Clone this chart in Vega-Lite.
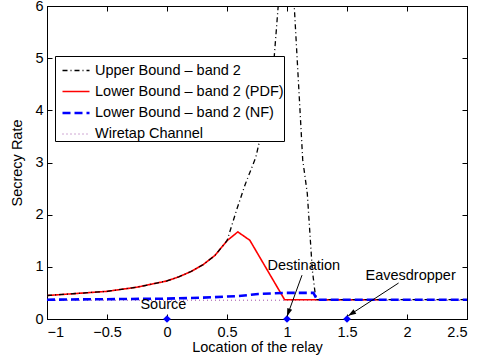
{
  "$schema": "https://vega.github.io/schema/vega-lite/v6.json",
  "width": 420,
  "height": 313,
  "autosize": {"type": "none"},
  "padding": {"left": 47, "top": 6, "right": 17, "bottom": 39},
  "config": {
    "font": "Liberation Sans",
    "view": {"stroke": "black", "strokeWidth": 1},
    "axis": {"domainColor": "black", "tickColor": "black", "labelColor": "black", "titleColor": "black", "labelFontSize": 14.5, "titleFontSize": 14.5, "titleFontWeight": "normal", "grid": false, "tickSize": -5, "format": "~g"},
    "axisX": {"labelPadding": 11, "titlePadding": 2},
    "axisY": {"labelPadding": 9, "titlePadding": 10}
  },
  "datasets": {
    "curves": [
      {"series": "Wiretap Channel", "x": -1, "y": 0.36},
      {"series": "Wiretap Channel", "x": 2.5, "y": 0.36},
      {"series": "Lower Bound – band 2 (PDF)", "x": -1, "y": 0.45},
      {"series": "Lower Bound – band 2 (PDF)", "x": -0.75, "y": 0.49},
      {"series": "Lower Bound – band 2 (PDF)", "x": -0.5, "y": 0.53},
      {"series": "Lower Bound – band 2 (PDF)", "x": -0.25, "y": 0.61},
      {"series": "Lower Bound – band 2 (PDF)", "x": 0, "y": 0.73},
      {"series": "Lower Bound – band 2 (PDF)", "x": 0.1, "y": 0.81},
      {"series": "Lower Bound – band 2 (PDF)", "x": 0.2, "y": 0.91},
      {"series": "Lower Bound – band 2 (PDF)", "x": 0.3, "y": 1.04},
      {"series": "Lower Bound – band 2 (PDF)", "x": 0.4, "y": 1.22},
      {"series": "Lower Bound – band 2 (PDF)", "x": 0.5, "y": 1.5},
      {"series": "Lower Bound – band 2 (PDF)", "x": 0.59, "y": 1.67},
      {"series": "Lower Bound – band 2 (PDF)", "x": 0.69, "y": 1.51},
      {"series": "Lower Bound – band 2 (PDF)", "x": 0.98, "y": 0.37},
      {"series": "Lower Bound – band 2 (PDF)", "x": 1.8, "y": 0.37},
      {"series": "Upper Bound – band 2", "x": -1, "y": 0.45},
      {"series": "Upper Bound – band 2", "x": -0.75, "y": 0.49},
      {"series": "Upper Bound – band 2", "x": -0.5, "y": 0.53},
      {"series": "Upper Bound – band 2", "x": -0.25, "y": 0.61},
      {"series": "Upper Bound – band 2", "x": 0, "y": 0.73},
      {"series": "Upper Bound – band 2", "x": 0.1, "y": 0.81},
      {"series": "Upper Bound – band 2", "x": 0.2, "y": 0.91},
      {"series": "Upper Bound – band 2", "x": 0.3, "y": 1.04},
      {"series": "Upper Bound – band 2", "x": 0.4, "y": 1.22},
      {"series": "Upper Bound – band 2", "x": 0.5, "y": 1.5},
      {"series": "Upper Bound – band 2", "x": 0.58, "y": 2.09},
      {"series": "Upper Bound – band 2", "x": 0.65, "y": 2.57},
      {"series": "Upper Bound – band 2", "x": 0.74, "y": 3.1},
      {"series": "Upper Bound – band 2", "x": 0.78, "y": 3.5},
      {"series": "Upper Bound – band 2", "x": 0.84, "y": 4.3},
      {"series": "Upper Bound – band 2", "x": 0.894, "y": 5.04},
      {"series": "Upper Bound – band 2", "x": 0.93, "y": 6.1},
      {"series": "Upper Bound – band 2", "x": 0.96, "y": 7.5},
      {"series": "Upper Bound – band 2", "x": 1.0, "y": 9},
      {"series": "Upper Bound – band 2", "x": 1.04, "y": 7.0},
      {"series": "Upper Bound – band 2", "x": 1.058, "y": 6.1},
      {"series": "Upper Bound – band 2", "x": 1.094, "y": 4.6},
      {"series": "Upper Bound – band 2", "x": 1.131, "y": 3.05},
      {"series": "Upper Bound – band 2", "x": 1.169, "y": 2.41},
      {"series": "Upper Bound – band 2", "x": 1.211, "y": 0.94},
      {"series": "Upper Bound – band 2", "x": 1.233, "y": 0.52},
      {"series": "Upper Bound – band 2", "x": 1.25, "y": 0.37},
      {"series": "Upper Bound – band 2", "x": 2.5, "y": 0.37},
      {"series": "Lower Bound – band 2 (NF)", "x": -1, "y": 0.37},
      {"series": "Lower Bound – band 2 (NF)", "x": -0.5, "y": 0.38},
      {"series": "Lower Bound – band 2 (NF)", "x": 0, "y": 0.39},
      {"series": "Lower Bound – band 2 (NF)", "x": 0.3, "y": 0.41},
      {"series": "Lower Bound – band 2 (NF)", "x": 0.6, "y": 0.44},
      {"series": "Lower Bound – band 2 (NF)", "x": 0.76, "y": 0.48},
      {"series": "Lower Bound – band 2 (NF)", "x": 0.98, "y": 0.5},
      {"series": "Lower Bound – band 2 (NF)", "x": 1.22, "y": 0.5},
      {"series": "Lower Bound – band 2 (NF)", "x": 1.25, "y": 0.37},
      {"series": "Lower Bound – band 2 (NF)", "x": 2.5, "y": 0.37}
    ],
    "sites": [
      {"name": "Source", "x": 0, "y": 0},
      {"name": "Destination", "x": 1, "y": 0},
      {"name": "Eavesdropper", "x": 1.5, "y": 0}
    ],
    "notes": [
      {"label": "Source", "x": -0.03, "y": 0.27},
      {"label": "Destination", "x": 1.14, "y": 1.015},
      {"label": "Eavesdropper", "x": 2.03, "y": 0.82}
    ],
    "arrows": [
      {"name": "Destination", "x": 1.125, "y": 0.84, "x2": 1.0, "y2": 0.05},
      {"name": "Eavesdropper", "x": 1.93, "y": 0.69, "x2": 1.51, "y2": 0.06}
    ]
  },
  "layer": [
    {
      "layer": [
        {
          "data": {"name": "curves"},
          "mark": {"type": "line", "clip": true},
          "encoding": {
            "x": {"field": "x", "type": "quantitative", "title": "Location of the relay",
                  "scale": {"domain": [-1, 2.5], "nice": false, "zero": false},
                  "axis": {"values": [-1, -0.5, 0, 0.5, 1, 1.5, 2, 2.5]}},
            "y": {"field": "y", "type": "quantitative", "title": "Secrecy Rate",
                  "scale": {"domain": [0, 6], "nice": false},
                  "axis": {"values": [0, 1, 2, 3, 4, 5, 6]}},
            "color": {"field": "series", "type": "nominal",
                      "scale": {"domain": ["Upper Bound – band 2", "Lower Bound – band 2 (PDF)", "Lower Bound – band 2 (NF)", "Wiretap Channel"],
                                "range": ["#000000", "#ff0000", "#0000ff", "#a050a8"]},
                      "legend": {"title": null, "orient": "none", "legendX": 8, "legendY": 50,
                                 "symbolType": "stroke", "symbolSize": 729, "labelFontSize": 14.5, "labelColor": "black",
                                 "labelLimit": 400, "strokeColor": "black", "fillColor": "white", "padding": 0, "symbolOffset": 6, "labelOffset": 4, "rowPadding": -6.5}},
            "strokeDash": {"field": "series", "type": "nominal",
                           "scale": {"domain": ["Upper Bound – band 2", "Lower Bound – band 2 (PDF)", "Lower Bound – band 2 (NF)", "Wiretap Channel"],
                                     "range": [[5, 3, 1, 3], [1, 0], [8, 4], [1, 3]]}},
            "strokeWidth": {"field": "series", "type": "ordinal",
                            "scale": {"type": "ordinal", "domain": ["Upper Bound – band 2", "Lower Bound – band 2 (PDF)", "Lower Bound – band 2 (NF)", "Wiretap Channel"],
                                      "range": [1.3, 1.6, 2.6, 1]}}
          }
        },
        {
          "data": {"name": "sites"},
          "mark": {"type": "point", "shape": "diamond", "filled": true, "color": "#0000ff", "size": 60, "opacity": 1},
          "encoding": {
            "x": {"field": "x", "type": "quantitative"},
            "y": {"field": "y", "type": "quantitative"}
          }
        },
        {
          "data": {"name": "notes"},
          "mark": {"type": "text", "fontSize": 14.5, "color": "black", "align": "center", "baseline": "middle"},
          "encoding": {
            "x": {"field": "x", "type": "quantitative"},
            "y": {"field": "y", "type": "quantitative"},
            "text": {"field": "label"}
          }
        },
        {
          "data": {"name": "arrows"},
          "mark": {"type": "rule", "color": "black", "strokeWidth": 1},
          "encoding": {
            "x": {"field": "x", "type": "quantitative"},
            "y": {"field": "y", "type": "quantitative"},
            "x2": {"field": "x2"},
            "y2": {"field": "y2"}
          }
        },
        {
          "data": {"name": "arrows"},
          "transform": [{"filter": "datum.name == 'Destination'"}],
          "mark": {"type": "point", "shape": "M0,0L-0.32,1L0.32,1Z", "filled": true, "color": "black", "size": 256, "opacity": 1, "angle": 199.7},
          "encoding": {
            "x": {"field": "x2", "type": "quantitative"},
            "y": {"field": "y2", "type": "quantitative"}
          }
        },
        {
          "data": {"name": "arrows"},
          "transform": [{"filter": "datum.name == 'Eavesdropper'"}],
          "mark": {"type": "point", "shape": "M0,0L-0.32,1L0.32,1Z", "filled": true, "color": "black", "size": 256, "opacity": 1, "angle": 236.8},
          "encoding": {
            "x": {"field": "x2", "type": "quantitative"},
            "y": {"field": "y2", "type": "quantitative"}
          }
        }
      ]
    },
    {
      "data": {"name": "sites"},
      "mark": {"type": "point", "opacity": 0},
      "encoding": {
        "x": {"field": "x", "type": "quantitative",
              "axis": {"orient": "top", "labels": false, "title": null, "values": [-1, -0.5, 0, 0.5, 1, 1.5, 2, 2.5]}},
        "y": {"field": "y", "type": "quantitative",
              "axis": {"orient": "right", "labels": false, "title": null, "values": [0, 1, 2, 3, 4, 5, 6]}}
      }
    }
  ],
  "resolve": {"axis": {"x": "independent", "y": "independent"}}
}
